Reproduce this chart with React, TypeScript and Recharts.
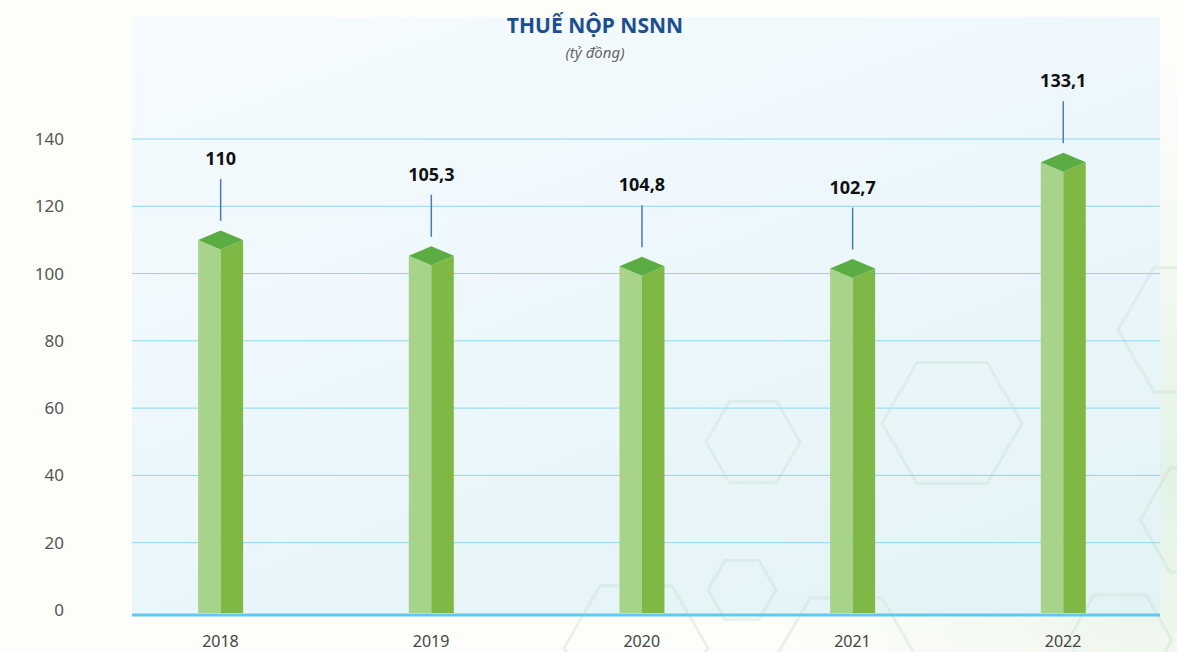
import React from 'react';
import { BarChart, Bar, XAxis, YAxis, CartesianGrid, LabelList } from 'recharts';

const years = ['2018', '2019', '2020', '2021', '2022'];
// bar heights as drawn in the picture (2020 and 2021 sit slightly below their labels)
const barHeights = [110, 105.3, 102.2, 101.5, 133.1];
const valueLabels = ['110', '105,3', '104,8', '102,7', '133,1'];
const yTicks = [0, 20, 40, 60, 80, 100, 120, 140];
const gridValues = [20, 40, 60, 80, 100, 120, 140];

// background decoration: [cx, cy, r]
const hexagons = [
  [753, 442, 47],
  [952, 423, 70],
  [636, 648, 72],
  [846, 660, 72],
  [742, 590, 34],
  [1190, 330, 72],
  [1120, 640, 52],
  [1200, 520, 60],
];

const data = years.map((year, i) => ({ idx: i, year, value: barHeights[i], label: valueLabels[i] }));

const FONT = '"Noto Sans", "Open Sans", sans-serif';

function hexPoints(cx: number, cy: number, r: number) {
  const pts: string[] = [];
  for (let k = 0; k < 6; k++) {
    const a = (Math.PI / 3) * k;
    pts.push(`${cx + r * Math.cos(a)},${cy + r * Math.sin(a)}`);
  }
  return pts.join(' ');
}

function PrismBar(props: any) {
  const { x, y, width, height } = props;
  const cx = x + width / 2;
  const d = 9.5;
  const bottom = y + height + 3;
  return (
    <g>
      <polygon points={`${x},${y} ${cx},${y + d} ${cx},${bottom} ${x},${bottom}`} fill="#a8d38b" />
      <polygon points={`${cx},${y + d} ${x + width},${y} ${x + width},${bottom} ${cx},${bottom}`} fill="#80b846" />
      <polygon points={`${x},${y} ${cx},${y - d} ${x + width},${y} ${cx},${y + d}`} fill="#5cac44" />
    </g>
  );
}

function ValueLabel(props: any) {
  const { x, y, width, value } = props;
  const cx = x + width / 2;
  return (
    <g>
      <line x1={cx} y1={y - 61} x2={cx} y2={y - 19} stroke="#4a7db5" strokeWidth={1.5} />
      <text x={cx} y={y - 75} textAnchor="middle" fontFamily={FONT} fontWeight={700} fontSize={18} fill="#111">
        {value}
      </text>
    </g>
  );
}

export default function App() {
  return (
    <div style={{ position: 'absolute', left: 0, top: 0, width: 1177, height: 652, overflow: 'hidden',
      background: 'radial-gradient(circle at 1177px 480px, #e2f2e6 0px, #f4f9f2 220px, #fdfdfa 420px)' }}>
      <div style={{ position: 'absolute', left: 132, top: 17, width: 1028, height: 598,
        background: 'linear-gradient(160deg, #f6fbfe 0%, #eef8fc 40%, #e2f3f5 100%)' }} />
      <svg width={1177} height={652} style={{ position: 'absolute', left: 0, top: 0 }}>
        {hexagons.map(([cx, cy, r], i) => (
          <polygon key={i} points={hexPoints(cx, cy, r)} fill="none" stroke="#bcdcc8" strokeOpacity={0.3} strokeWidth={3} />
        ))}
      </svg>
      <div style={{ position: 'absolute', left: 0, top: 12, width: 1190, textAlign: 'center', fontFamily: FONT,
        fontWeight: 700, fontSize: 21, color: '#1d4f90', lineHeight: '26px' }}>
        THUẾ NỘP NSNN
      </div>
      <div style={{ position: 'absolute', left: 0, top: 41, width: 1190, textAlign: 'center', fontFamily: FONT,
        fontStyle: 'italic', fontSize: 15, color: '#666', lineHeight: '22px' }}>
        (tỷ đồng)
      </div>
      <div style={{ position: 'absolute', left: 0, top: 0 }}>
        <BarChart width={1177} height={652} data={data} margin={{ top: 139, right: 17, bottom: 7, left: 62 }}>
          <CartesianGrid vertical={false} horizontalValues={gridValues} stroke="#8fd6f2" strokeWidth={1} />
          <XAxis
            type="number"
            dataKey="idx"
            domain={[-0.42, 4.46]}
            ticks={[0, 1, 2, 3, 4]}
            allowDataOverflow
            tickFormatter={(i: number) => years[i]}
            tickLine={false}
            tickSize={6}
            tickMargin={15}
            height={30}
            axisLine={{ stroke: '#62c8f0', strokeWidth: 3 }}
            tick={{ fill: '#444', fontSize: 16, fontFamily: FONT }}
          />
          <YAxis
            domain={[-1.5, 140]}
            ticks={yTicks}
            allowDataOverflow
            width={70}
            axisLine={false}
            tickLine={false}
            tickSize={6}
            tickMargin={62}
            tick={{ fill: '#555', fontSize: 17, fontFamily: FONT }}
          />
          <Bar dataKey="value" barSize={45} shape={<PrismBar />} isAnimationActive={false}>
            <LabelList dataKey="label" content={<ValueLabel />} />
          </Bar>
        </BarChart>
      </div>
    </div>
  );
}
